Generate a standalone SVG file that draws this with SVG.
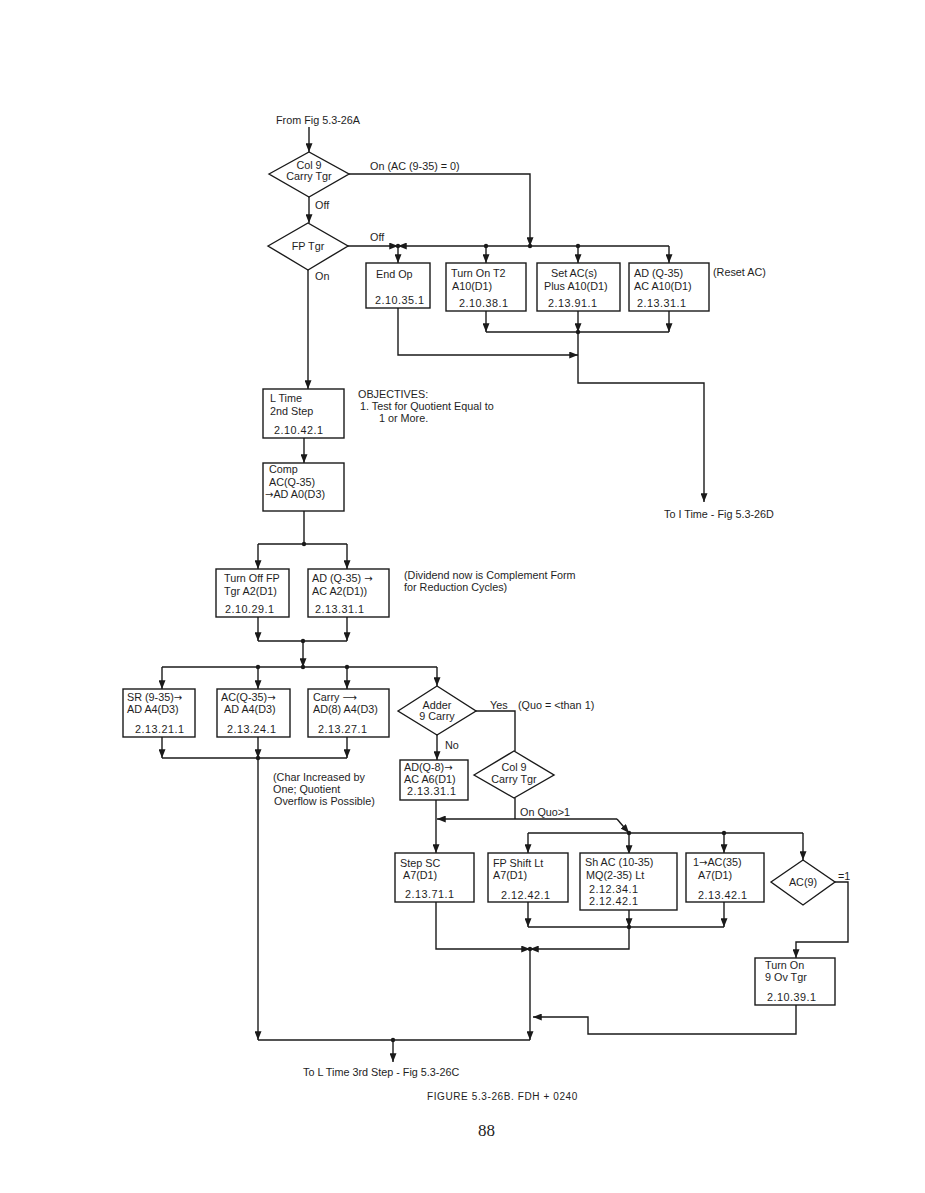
<svg xmlns="http://www.w3.org/2000/svg" width="925" height="1193" viewBox="0 0 925 1193">
<defs>
<style>
.bx{fill:#fff;stroke:#1a1a1a;stroke-width:1.4}
.ln{fill:none;stroke:#1a1a1a;stroke-width:1.4}
.ar{fill:none;stroke:#1a1a1a;stroke-width:1.4;marker-end:url(#ah)}
.dt{fill:#1a1a1a}
text{font-family:"Liberation Sans",Arial,sans-serif;font-size:10.8px;fill:#1e1e1e}
.n{letter-spacing:0.5px}
.c{text-anchor:middle}
.a{font-family:"DejaVu Sans",sans-serif;font-size:10px}
.pg{font-family:"Liberation Serif","Times New Roman",serif;font-size:17px}
.fg{font-size:10px;letter-spacing:0.6px}
</style>
<marker id="ah" viewBox="0 0 10 8" refX="10" refY="4" markerWidth="9" markerHeight="7" orient="auto" markerUnits="userSpaceOnUse"><path d="M0,0 L10,4 L0,8 z" fill="#1a1a1a"/></marker>
</defs>
<rect width="925" height="1193" fill="#fff"/>

<g id="connectors">
<path class="ar" d="M309,127 L309,152"/>
<path class="ar" d="M349,174 L530,174 L530,246"/>
<path class="ar" d="M309,197 L309,223"/>
<path class="ar" d="M348,246 L398,246"/>
<path class="ar" d="M669,246 L398,246"/>
<path class="ar" d="M669,246 L669,263"/>
<path class="ar" d="M398,246 L398,263"/>
<path class="ar" d="M486,246 L486,263"/>
<path class="ar" d="M578,246 L578,263"/>
<path class="ar" d="M486,311 L486,332"/>
<path class="ar" d="M578,311 L578,332"/>
<path class="ar" d="M669,311 L669,332"/>
<path class="ln" d="M486,332 L669,332"/>
<path class="ar" d="M578,332 L578,383 L704,383 L704,502"/>
<path class="ar" d="M398,308 L398,355 L578,355"/>
<path class="ar" d="M308,270 L308,389"/>
<path class="ar" d="M304,438 L304,463"/>
<path class="ln" d="M304,511 L304,544 M258,544 L347,544"/>
<path class="ar" d="M258,544 L258,569"/>
<path class="ar" d="M347,544 L347,569"/>
<path class="ar" d="M258,617 L258,641"/>
<path class="ar" d="M347,617 L347,641"/>
<path class="ln" d="M258,641 L347,641"/>
<path class="ar" d="M303,641 L303,667"/>
<path class="ln" d="M162,667 L437,667"/>
<path class="ar" d="M162,667 L162,689"/>
<path class="ar" d="M258,667 L258,689"/>
<path class="ar" d="M347,667 L347,689"/>
<path class="ar" d="M437,667 L437,686"/>
<path class="ar" d="M162,737 L162,758"/>
<path class="ar" d="M258,737 L258,758"/>
<path class="ar" d="M347,737 L347,758"/>
<path class="ln" d="M162,758 L347,758"/>
<path class="ar" d="M258,758 L258,1040"/>
<path class="ln" d="M258,1040 L530,1040"/>
<path class="ar" d="M393,1040 L393,1062"/>
<path class="ar" d="M530,949 L530,1040"/>
<path class="ln" d="M476,711 L515,711 L515,751"/>
<path class="ar" d="M437,735 L437,760"/>
<path class="ar" d="M436,800 L436,853"/>
<path class="ln" d="M515,798 L515,819"/>
<path class="ar" d="M617,819 L437,819"/>
<path class="ar" d="M617,819 L629,833"/>
<path class="ln" d="M528,833 L803,833"/>
<path class="ar" d="M528,833 L528,853"/>
<path class="ar" d="M629,833 L629,854"/>
<path class="ar" d="M724,833 L724,853"/>
<path class="ar" d="M803,833 L803,860"/>
<path class="ar" d="M835,882 L848,882 L848,942 L796,942 L796,958"/>
<path class="ar" d="M796,1005 L796,1034 L588,1034 L588,1017 L533,1017"/>
<path class="ar" d="M528,902 L528,927"/>
<path class="ar" d="M629,910 L629,927"/>
<path class="ar" d="M724,902 L724,927"/>
<path class="ln" d="M528,927 L724,927"/>
<path class="ar" d="M629,927 L629,949 L530,949"/>
<path class="ar" d="M436,902 L436,949 L530,949"/>
<circle class="dt" cx="398" cy="246" r="2.2"/>
<circle class="dt" cx="486" cy="246" r="2.2"/>
<circle class="dt" cx="530" cy="246" r="2.2"/>
<circle class="dt" cx="578" cy="246" r="2.2"/>
<circle class="dt" cx="578" cy="332" r="2.2"/>
<circle class="dt" cx="304" cy="544" r="2.2"/>
<circle class="dt" cx="303" cy="641" r="2.2"/>
<circle class="dt" cx="258" cy="667" r="2.2"/>
<circle class="dt" cx="303" cy="667" r="2.2"/>
<circle class="dt" cx="347" cy="667" r="2.2"/>
<circle class="dt" cx="258" cy="758" r="2.2"/>
<circle class="dt" cx="393" cy="1040" r="2.2"/>
<circle class="dt" cx="629" cy="833" r="2.2"/>
<circle class="dt" cx="724" cy="833" r="2.2"/>
<circle class="dt" cx="629" cy="927" r="2.2"/>
<circle class="dt" cx="530" cy="949" r="2.2"/>
</g>

<g id="labels">
<text x="276" y="124">From Fig 5.3-26A</text>
<text x="370" y="170">On (AC (9-35) = 0)</text>
<text x="315" y="209">Off</text>
<text x="370" y="241">Off</text>
<text x="315" y="280">On</text>
<text x="713" y="276">(Reset AC)</text>
<text x="664" y="518">To I Time - Fig 5.3-26D</text>
<text x="358" y="398">OBJECTIVES:</text>
<text x="360" y="410">1.  Test for Quotient Equal to</text>
<text x="379" y="422">1 or More.</text>
<text x="404" y="579">(Dividend now is Complement Form</text>
<text x="404" y="591">for Reduction Cycles)</text>
<text x="273" y="781">(Char Increased by</text>
<text x="273" y="793">One;  Quotient</text>
<text x="274" y="805">Overflow is Possible)</text>
<text x="490" y="709">Yes</text>
<text x="518" y="709">(Quo = &lt;than 1)</text>
<text x="445" y="749">No</text>
<text x="520" y="816">On  Quo&gt;1</text>
<text x="838" y="880">=1</text>
<text x="303" y="1076">To L Time 3rd Step - Fig 5.3-26C</text>
<text class="fg" x="427" y="1100">FIGURE  5.3-26B.  FDH + 0240</text>
<text class="pg" x="478" y="1136">88</text>
</g>

<g id="col9-carry-tgr">
<polygon class="bx" points="269,174 309,152 349,174 309,197"/>
<text class="c" x="309" y="169">Col 9</text>
<text class="c" x="309" y="180">Carry Tgr</text>
</g>
<g id="fp-tgr">
<polygon class="bx" points="268,246 308,223 348,246 308,270"/>
<text class="c" x="308" y="250">FP Tgr</text>
</g>
<g id="end-op">
<rect class="bx" x="366" y="263" width="64" height="45"/>
<text x="376" y="278">End Op</text>
<text class="n" x="375" y="304">2.10.35.1</text>
</g>
<g id="turn-on-t2">
<rect class="bx" x="446" y="263" width="80" height="48"/>
<text x="451" y="277">Turn On T2</text>
<text x="452" y="290">A10(D1)</text>
<text class="n" x="459" y="307">2.10.38.1</text>
</g>
<g id="set-ac">
<rect class="bx" x="537" y="263" width="83" height="48"/>
<text x="551" y="277">Set AC(s)</text>
<text x="544" y="290">Plus A10(D1)</text>
<text class="n" x="548" y="307">2.13.91.1</text>
</g>
<g id="ad-q35-ac">
<rect class="bx" x="629" y="263" width="80" height="48"/>
<text x="634" y="277">AD (Q-35)</text>
<text x="634" y="290">AC A10(D1)</text>
<text class="n" x="637" y="307">2.13.31.1</text>
</g>
<g id="l-time">
<rect class="bx" x="263" y="389" width="81" height="49"/>
<text x="270" y="402">L Time</text>
<text x="270" y="415">2nd Step</text>
<text class="n" x="274" y="434">2.10.42.1</text>
</g>
<g id="comp">
<rect class="bx" x="263" y="463" width="81" height="48"/>
<text x="269" y="473">Comp</text>
<text x="269" y="486">AC(Q-35)</text>
<text x="265" y="498"><tspan class="a">→</tspan>AD A0(D3)</text>
</g>
<g id="turn-off-fp">
<rect class="bx" x="216" y="569" width="73" height="48"/>
<text x="224" y="582">Turn Off FP</text>
<text x="224" y="595">Tgr A2(D1)</text>
<text class="n" x="225" y="613">2.10.29.1</text>
</g>
<g id="ad-q35-ac-a2">
<rect class="bx" x="308" y="569" width="81" height="48"/>
<text x="312" y="582">AD (Q-35) <tspan class="a">→</tspan></text>
<text x="312" y="595">AC A2(D1))</text>
<text class="n" x="315" y="613">2.13.31.1</text>
</g>
<g id="sr-9-35">
<rect class="bx" x="123" y="689" width="72" height="48"/>
<text x="127" y="701">SR (9-35)<tspan class="a">→</tspan></text>
<text x="127" y="713">AD A4(D3)</text>
<text class="n" x="135" y="733">2.13.21.1</text>
</g>
<g id="ac-q35-ad">
<rect class="bx" x="217" y="689" width="73" height="48"/>
<text x="221" y="701">AC(Q-35)<tspan class="a">→</tspan></text>
<text x="224" y="713">AD A4(D3)</text>
<text class="n" x="227" y="733">2.13.24.1</text>
</g>
<g id="carry">
<rect class="bx" x="308" y="689" width="81" height="48"/>
<text x="313" y="701">Carry <tspan class="a">⟶</tspan></text>
<text x="313" y="713">AD(8) A4(D3)</text>
<text class="n" x="318" y="733">2.13.27.1</text>
</g>
<g id="adder-9-carry">
<polygon class="bx" points="398,711 437,686 476,711 437,735"/>
<text class="c" x="437" y="709">Adder</text>
<text class="c" x="437" y="720">9 Carry</text>
</g>
<g id="ad-q8">
<rect class="bx" x="400" y="760" width="68" height="40"/>
<text x="404" y="771">AD(Q-8)<tspan class="a">→</tspan></text>
<text x="404" y="783">AC A6(D1)</text>
<text class="n" x="407" y="795">2.13.31.1</text>
</g>
<g id="col9-carry-tgr-2">
<polygon class="bx" points="474,775 514,751 554,775 514,798"/>
<text class="c" x="514" y="771">Col 9</text>
<text class="c" x="514" y="783">Carry Tgr</text>
</g>
<g id="step-sc">
<rect class="bx" x="395" y="853" width="79" height="49"/>
<text x="400" y="867">Step SC</text>
<text x="403" y="879">A7(D1)</text>
<text class="n" x="405" y="898">2.13.71.1</text>
</g>
<g id="fp-shift-lt">
<rect class="bx" x="488" y="853" width="80" height="49"/>
<text x="493" y="867">FP Shift Lt</text>
<text x="493" y="879">A7(D1)</text>
<text class="n" x="501" y="899">2.12.42.1</text>
</g>
<g id="sh-ac">
<rect class="bx" x="580" y="853" width="97" height="57"/>
<text x="585" y="866">Sh AC (10-35)</text>
<text x="586" y="879">MQ(2-35) Lt</text>
<text class="n" x="589" y="893">2.12.34.1</text>
<text class="n" x="589" y="905">2.12.42.1</text>
</g>
<g id="one-ac35">
<rect class="bx" x="686" y="853" width="78" height="49"/>
<text x="693" y="866">1<tspan class="a">→</tspan>AC(35)</text>
<text x="698" y="879">A7(D1)</text>
<text class="n" x="698" y="899">2.13.42.1</text>
</g>
<g id="ac9">
<polygon class="bx" points="771,882 803,860 835,882 803,905"/>
<text class="c" x="803" y="886">AC(9)</text>
</g>
<g id="turn-on-9ov">
<rect class="bx" x="755" y="958" width="80" height="47"/>
<text x="765" y="969">Turn On</text>
<text x="765" y="981">9 Ov Tgr</text>
<text class="n" x="767" y="1001">2.10.39.1</text>
</g>
</svg>
